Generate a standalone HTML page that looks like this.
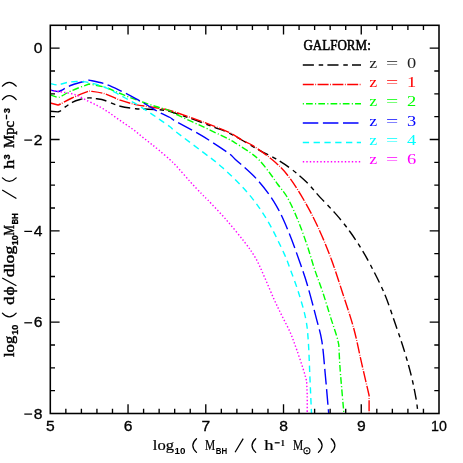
<!DOCTYPE html>
<html><head><meta charset="utf-8"><title>plot</title>
<style>html,body{margin:0;padding:0;background:#fff;}svg{display:block}.g{filter:grayscale(1)}.n{filter:saturate(1.0001)}text{font-family:"Liberation Sans",sans-serif;}.s{font-family:"Liberation Serif",serif;}</style></head><body>
<svg width="463" height="463" viewBox="0 0 463 463">
<rect width="463" height="463" fill="#fff"/>
<g fill="none" stroke-width="1.4" stroke-linejoin="round">
<path d="M50.30 111.20L58.00 111.90C58.42 111.72 59.43 111.52 60.50 110.80C61.57 110.08 62.45 109.00 64.40 107.60C66.35 106.20 69.60 103.75 72.20 102.40C74.80 101.05 77.20 100.25 80.00 99.50C82.80 98.75 86.20 98.02 89.00 97.90C91.80 97.78 94.13 98.37 96.80 98.80C99.47 99.23 101.10 99.27 105.00 100.50C108.90 101.73 115.08 104.83 120.20 106.20C125.32 107.57 130.95 108.20 135.70 108.70C140.45 109.20 143.82 108.92 148.70 109.20C153.58 109.48 160.47 109.70 165.00 110.40C169.53 111.10 172.07 112.22 175.90 113.40C179.73 114.58 183.68 115.98 188.00 117.50C192.32 119.02 197.30 120.82 201.80 122.50C206.30 124.18 210.67 125.95 215.00 127.60C219.33 129.25 223.33 130.33 227.80 132.40C232.27 134.47 236.43 136.95 241.80 140.00C247.17 143.05 254.37 147.58 260.00 150.70C265.63 153.82 270.42 155.67 275.60 158.70C280.78 161.73 286.00 165.05 291.10 168.90C296.20 172.75 301.32 177.02 306.20 181.80C311.08 186.58 315.37 192.13 320.40 197.60C325.43 203.07 331.43 208.87 336.40 214.60C341.37 220.33 346.08 226.35 350.20 232.00C354.32 237.65 357.72 243.00 361.10 248.50C364.48 254.00 366.58 257.42 370.50 265.00C374.42 272.58 380.38 283.95 384.60 294.00C388.82 304.05 392.53 315.88 395.80 325.30C399.07 334.72 401.62 342.08 404.20 350.50C406.78 358.92 409.33 367.83 411.30 375.80C413.27 383.77 414.88 392.02 416.00 398.30C417.12 404.58 417.67 410.97 418.00 413.50" stroke="#000" stroke-dasharray="11.1 4.8 4.5 4.2"/>
<path d="M50.30 103.00L58.00 105.00C58.42 104.83 58.17 105.17 60.50 104.00C62.83 102.83 67.25 100.17 72.00 98.00C76.75 95.83 86.17 92.17 89.00 91.00C91.60 91.45 99.40 92.17 104.60 93.70C109.80 95.23 115.02 98.38 120.20 100.20C125.38 102.02 130.95 103.52 135.70 104.60C140.45 105.68 143.82 105.93 148.70 106.70C153.58 107.47 160.47 108.25 165.00 109.20C169.53 110.15 169.77 110.35 175.90 112.40C182.03 114.45 193.15 118.27 201.80 121.50C210.45 124.73 221.13 128.72 227.80 131.80C234.47 134.88 237.48 137.62 241.80 140.00C246.12 142.38 248.03 142.32 253.70 146.10C259.37 149.88 269.68 157.23 275.80 162.70C281.92 168.17 285.27 171.88 290.40 178.90C295.53 185.92 301.73 196.17 306.60 204.80C311.47 213.43 315.50 221.67 319.60 230.70C323.70 239.73 327.38 248.67 331.20 259.00C335.02 269.33 338.75 281.15 342.50 292.70C346.25 304.25 350.48 316.43 353.70 328.30C356.92 340.17 359.23 352.70 361.80 363.90C364.37 375.10 367.88 390.23 369.10 395.50L369.10 413.50" stroke="#f00" stroke-dasharray="11 1.5 0.8 1.5"/>
<path d="M50.30 94.90L58.00 97.50C58.50 97.33 58.67 97.67 61.00 96.50C63.33 95.33 67.33 92.58 72.00 90.50C76.67 88.42 86.17 85.08 89.00 84.00C91.60 84.53 99.75 85.77 104.60 87.20C109.45 88.63 113.83 90.87 118.10 92.60C122.37 94.33 125.92 95.95 130.20 97.60C134.48 99.25 140.02 101.17 143.80 102.50C147.58 103.83 150.12 104.72 152.90 105.60C155.68 106.48 157.65 106.93 160.50 107.80C163.35 108.67 167.43 109.73 170.00 110.80C172.57 111.87 170.60 111.63 175.90 114.20C181.20 116.77 193.65 122.37 201.80 126.20C209.95 130.03 219.25 134.43 224.80 137.20C230.35 139.97 230.87 140.23 235.10 142.80C239.33 145.37 246.17 149.70 250.20 152.60C254.23 155.50 256.02 156.77 259.30 160.20C262.58 163.63 266.87 169.23 269.90 173.20C272.93 177.17 274.62 180.00 277.50 184.00C280.38 188.00 283.97 191.58 287.20 197.20C290.43 202.82 293.67 209.95 296.90 217.70C300.13 225.45 303.63 235.05 306.60 243.70C309.57 252.35 311.98 261.43 314.70 269.60C317.42 277.77 320.18 284.53 322.90 292.70C325.62 300.87 328.68 311.32 331.00 318.60C333.32 325.88 335.50 332.00 336.80 336.40C338.10 340.80 338.47 343.57 338.80 345.00C339.03 349.20 339.35 358.78 340.20 370.20C341.05 381.62 343.28 406.28 343.90 413.50" stroke="#0f0" stroke-dasharray="6.7 2.3 1.1 2.15"/>
<path d="M50.30 90.10L58.00 91.60C58.50 91.42 58.67 91.60 61.00 90.50C63.33 89.40 67.33 86.73 72.00 85.00C76.67 83.27 86.17 80.92 89.00 80.10C91.60 80.72 99.40 82.05 104.60 83.80C109.80 85.55 115.02 88.13 120.20 90.60C125.38 93.07 130.95 96.03 135.70 98.60C140.45 101.17 144.80 103.72 148.70 106.00C152.60 108.28 155.55 110.38 159.10 112.30C162.65 114.22 167.20 115.97 170.00 117.50C172.80 119.03 170.60 118.47 175.90 121.50C181.20 124.53 193.15 130.52 201.80 135.70C210.45 140.88 222.20 148.65 227.80 152.60C233.40 156.55 230.37 154.75 235.40 159.40C240.43 164.05 251.27 172.93 258.00 180.50C264.73 188.07 270.67 196.17 275.80 204.80C280.93 213.43 284.75 222.58 288.80 232.30C292.85 242.02 296.97 254.18 300.10 263.10C303.23 272.02 304.88 276.55 307.60 285.80C310.32 295.05 314.02 309.35 316.40 318.60C318.78 327.85 320.43 332.12 321.90 341.30C323.37 350.48 324.07 361.67 325.20 373.70C326.33 385.73 328.12 406.87 328.70 413.50" stroke="#00f" stroke-dasharray="15.5 4.6"/>
<path d="M50.30 83.60C51.42 83.82 55.38 84.77 57.00 84.90C58.62 85.03 58.17 84.83 60.00 84.40C61.83 83.97 65.17 82.78 68.00 82.30C70.83 81.82 73.50 81.47 77.00 81.50C80.50 81.53 84.42 81.57 89.00 82.50C93.58 83.43 100.15 85.45 104.50 87.10C108.85 88.75 111.82 90.67 115.10 92.40C118.38 94.13 121.17 95.83 124.20 97.50C127.23 99.17 130.03 100.52 133.30 102.40C136.57 104.28 140.53 106.73 143.80 108.80C147.07 110.87 150.12 112.92 152.90 114.80C155.68 116.68 157.65 118.10 160.50 120.10C163.35 122.10 167.43 124.85 170.00 126.80C172.57 128.75 170.60 127.72 175.90 131.80C181.20 135.88 194.05 145.35 201.80 151.30C209.55 157.25 214.65 160.47 222.40 167.50C230.15 174.53 240.75 184.58 248.30 193.50C255.85 202.42 261.75 211.02 267.70 221.00C273.65 230.98 280.20 245.23 284.00 253.40C287.80 261.57 288.07 263.45 290.50 270.00C292.93 276.55 296.07 284.60 298.60 292.70C301.13 300.80 304.08 310.50 305.70 318.60C307.32 326.70 307.60 331.58 308.30 341.30C309.00 351.02 309.37 364.87 309.90 376.90C310.43 388.93 311.23 407.40 311.50 413.50" stroke="#0ff" stroke-dasharray="6.3 4.5"/>
<path d="M50.30 90.10C51.58 90.32 56.05 91.08 58.00 91.40C59.95 91.72 59.17 91.47 62.00 92.00C64.83 92.53 70.67 93.10 75.00 94.60C79.33 96.10 84.07 99.07 88.00 101.00C91.93 102.93 95.38 104.47 98.60 106.20C101.82 107.93 104.42 109.52 107.30 111.40C110.18 113.28 113.03 115.48 115.90 117.50C118.77 119.52 121.62 121.50 124.50 123.50C127.38 125.50 130.32 127.33 133.20 129.50C136.08 131.67 138.92 134.18 141.80 136.50C144.68 138.82 147.62 141.10 150.50 143.40C153.38 145.70 155.85 147.57 159.10 150.30C162.35 153.03 167.20 157.27 170.00 159.80C172.80 162.33 172.57 161.88 175.90 165.50C179.23 169.12 185.68 176.75 190.00 181.50C194.32 186.25 198.83 190.92 201.80 194.00C204.77 197.08 203.78 195.77 207.80 200.00C211.82 204.23 219.85 212.48 225.90 219.40C231.95 226.32 239.13 235.02 244.10 241.50C249.07 247.98 252.25 252.25 255.70 258.30C259.15 264.35 261.77 271.02 264.80 277.80C267.83 284.58 271.10 292.78 273.90 299.00C276.70 305.22 278.88 309.53 281.60 315.10C284.32 320.67 287.68 326.63 290.20 332.40C292.72 338.17 294.53 343.58 296.70 349.70C298.87 355.82 301.55 363.88 303.20 369.10C304.85 374.32 306.03 379.02 306.60 381.00C306.70 383.33 307.10 389.58 307.20 395.00C307.30 400.42 307.20 410.42 307.20 413.50" stroke="#f0f" stroke-dasharray="1.4 2.1"/>
</g>
<g stroke="#000" stroke-width="1.55" fill="none">
<rect x="50.3" y="25.3" width="388.7" height="388.2"/>
<path d="M65.85 413.50V408.80M65.85 25.30V30.00M81.40 413.50V408.80M81.40 25.30V30.00M96.94 413.50V408.80M96.94 25.30V30.00M112.49 413.50V408.80M112.49 25.30V30.00M128.04 413.50V404.20M128.04 25.30V34.60M143.59 413.50V408.80M143.59 25.30V30.00M159.14 413.50V408.80M159.14 25.30V30.00M174.68 413.50V408.80M174.68 25.30V30.00M190.23 413.50V408.80M190.23 25.30V30.00M205.78 413.50V404.20M205.78 25.30V34.60M221.33 413.50V408.80M221.33 25.30V30.00M236.88 413.50V408.80M236.88 25.30V30.00M252.42 413.50V408.80M252.42 25.30V30.00M267.97 413.50V408.80M267.97 25.30V30.00M283.52 413.50V404.20M283.52 25.30V34.60M299.07 413.50V408.80M299.07 25.30V30.00M314.62 413.50V408.80M314.62 25.30V30.00M330.16 413.50V408.80M330.16 25.30V30.00M345.71 413.50V408.80M345.71 25.30V30.00M361.26 413.50V404.20M361.26 25.30V34.60M376.81 413.50V408.80M376.81 25.30V30.00M392.36 413.50V408.80M392.36 25.30V30.00M407.90 413.50V408.80M407.90 25.30V30.00M423.45 413.50V408.80M423.45 25.30V30.00M50.30 390.66H55.00M439.00 390.66H434.30M50.30 367.83H55.00M439.00 367.83H434.30M50.30 344.99H55.00M439.00 344.99H434.30M50.30 322.16H59.60M439.00 322.16H429.70M50.30 299.32H55.00M439.00 299.32H434.30M50.30 276.49H55.00M439.00 276.49H434.30M50.30 253.65H55.00M439.00 253.65H434.30M50.30 230.82H59.60M439.00 230.82H429.70M50.30 207.98H55.00M439.00 207.98H434.30M50.30 185.15H55.00M439.00 185.15H434.30M50.30 162.31H55.00M439.00 162.31H434.30M50.30 139.48H59.60M439.00 139.48H429.70M50.30 116.64H55.00M439.00 116.64H434.30M50.30 93.81H55.00M439.00 93.81H434.30M50.30 70.97H55.00M439.00 70.97H434.30M50.30 48.14H59.60M439.00 48.14H429.70" stroke-width="1.35"/>
</g>
<g class="g" font-size="14" fill="#000" stroke="#000" stroke-width="0.3">
<text x="45.9" y="431.4" textLength="8.7" lengthAdjust="spacingAndGlyphs">5</text>
<text x="123.7" y="431.4" textLength="8.7" lengthAdjust="spacingAndGlyphs">6</text>
<text x="201.4" y="431.4" textLength="8.7" lengthAdjust="spacingAndGlyphs">7</text>
<text x="279.2" y="431.4" textLength="8.7" lengthAdjust="spacingAndGlyphs">8</text>
<text x="356.9" y="431.4" textLength="8.7" lengthAdjust="spacingAndGlyphs">9</text>
<text x="431.1" y="431.4" textLength="15.8" lengthAdjust="spacingAndGlyphs">10</text>
<text x="33.7" y="53.1" textLength="8.7" lengthAdjust="spacingAndGlyphs">0</text>
<text x="33.7" y="144.5" textLength="8.7" lengthAdjust="spacingAndGlyphs">2</text>
<path d="M24.3 140.1H32.1" stroke-width="1.25" fill="none"/>
<text x="33.7" y="235.8" textLength="8.7" lengthAdjust="spacingAndGlyphs">4</text>
<path d="M24.3 231.4H32.1" stroke-width="1.25" fill="none"/>
<text x="33.7" y="327.2" textLength="8.7" lengthAdjust="spacingAndGlyphs">6</text>
<path d="M24.3 322.8H32.1" stroke-width="1.25" fill="none"/>
<text x="33.7" y="418.5" textLength="8.7" lengthAdjust="spacingAndGlyphs">8</text>
<path d="M24.3 414.1H32.1" stroke-width="1.25" fill="none"/>
</g>
<text class="s g" x="303.4" y="49.7" font-size="15" stroke="#000" stroke-width="0.55" textLength="67.4" lengthAdjust="spacingAndGlyphs">GALFORM:</text>
<g fill="none" stroke-width="1.5">
<path d="M302.8 65.0H361" stroke="#000" stroke-dasharray="11.1 4.8 4.5 4.2" stroke-dashoffset="0"/>
<path d="M302.8 84.4H361" stroke="#f00" stroke-dasharray="11 1.5 0.8 1.5" stroke-dashoffset="0"/>
<path d="M302.8 103.7H361" stroke="#0f0" stroke-dasharray="6.7 2.3 1.1 2.15" stroke-dashoffset="9.0"/>
<path d="M302.8 123.1H361" stroke="#00f" stroke-dasharray="15.5 4.6" stroke-dashoffset="0"/>
<path d="M302.8 142.4H361" stroke="#0ff" stroke-dasharray="6.3 4.5" stroke-dashoffset="0"/>
<path d="M302.8 161.8H361" stroke="#f0f" stroke-dasharray="1.4 2.1" stroke-dashoffset="0"/>
</g>
<g class="s n" font-size="15.5">
<text class="s" y="67.6" fill="#222" x="369.3" textLength="7.9" lengthAdjust="spacingAndGlyphs">z</text><text class="s" y="67.6" fill="#222" x="385.9" textLength="12.2" lengthAdjust="spacingAndGlyphs">=</text><text class="s" y="67.6" fill="#222" x="406.9" textLength="9.2" lengthAdjust="spacingAndGlyphs">0</text>
<text class="s" y="87.0" fill="#f00" x="369.3" textLength="7.9" lengthAdjust="spacingAndGlyphs">z</text><text class="s" y="87.0" fill="#f00" x="385.9" textLength="12.2" lengthAdjust="spacingAndGlyphs">=</text><text class="s" y="87.0" fill="#f00" x="406.9" textLength="9.2" lengthAdjust="spacingAndGlyphs">1</text>
<text class="s" y="106.3" fill="#0f0" x="369.3" textLength="7.9" lengthAdjust="spacingAndGlyphs">z</text><text class="s" y="106.3" fill="#0f0" x="385.9" textLength="12.2" lengthAdjust="spacingAndGlyphs">=</text><text class="s" y="106.3" fill="#0f0" x="406.9" textLength="9.2" lengthAdjust="spacingAndGlyphs">2</text>
<text class="s" y="125.7" fill="#00f" x="369.3" textLength="7.9" lengthAdjust="spacingAndGlyphs">z</text><text class="s" y="125.7" fill="#00f" x="385.9" textLength="12.2" lengthAdjust="spacingAndGlyphs">=</text><text class="s" y="125.7" fill="#00f" x="406.9" textLength="9.2" lengthAdjust="spacingAndGlyphs">3</text>
<text class="s" y="145.0" fill="#0ff" x="369.3" textLength="7.9" lengthAdjust="spacingAndGlyphs">z</text><text class="s" y="145.0" fill="#0ff" x="385.9" textLength="12.2" lengthAdjust="spacingAndGlyphs">=</text><text class="s" y="145.0" fill="#0ff" x="406.9" textLength="9.2" lengthAdjust="spacingAndGlyphs">4</text>
<text class="s" y="164.4" fill="#f0f" x="369.3" textLength="7.9" lengthAdjust="spacingAndGlyphs">z</text><text class="s" y="164.4" fill="#f0f" x="385.9" textLength="12.2" lengthAdjust="spacingAndGlyphs">=</text><text class="s" y="164.4" fill="#f0f" x="406.9" textLength="9.2" lengthAdjust="spacingAndGlyphs">6</text>
</g>
<g class="s g" fill="#000" font-size="15.5" stroke="#000" stroke-width="0.22">
<text class="s" x="152.8" y="450.0" textLength="21.2" lengthAdjust="spacingAndGlyphs">log</text>
<text class="s" x="174.6" y="453.5" font-size="9" font-weight="bold" stroke="none" style="font-family:'Liberation Sans',sans-serif" textLength="10.9" lengthAdjust="spacingAndGlyphs">10</text>
<path d="M196.5 438.7Q189.1 445.5 196.5 452.4" fill="none" stroke="#000" stroke-width="1.25" stroke-linecap="round"/>
<text class="s" x="205.0" y="450.0" textLength="10.2" lengthAdjust="spacingAndGlyphs">M</text>
<text class="s" x="215.8" y="453.5" font-size="9" font-weight="bold" stroke="none" style="font-family:'Liberation Sans',sans-serif" textLength="11.4" lengthAdjust="spacingAndGlyphs">BH</text>
<path d="M235.1 452.2L243.2 438.6" stroke="#000" stroke-width="1.25" fill="none"/>
<path d="M255.7 438.7Q248.3 445.5 255.7 452.4" fill="none" stroke="#000" stroke-width="1.25" stroke-linecap="round"/>
<text class="s" x="264.2" y="450.0" textLength="9.3" lengthAdjust="spacingAndGlyphs">h</text>
<path d="M274.7 442.8H279.7" stroke="#000" stroke-width="1.3" fill="none"/>
<text x="280.6" y="445.7" font-size="9" font-weight="bold" stroke="none" class="s">1</text>
<text class="s" x="292.9" y="450.0" textLength="10.2" lengthAdjust="spacingAndGlyphs">M</text>
<circle cx="306.9" cy="450.8" r="3.05" fill="none" stroke="#000" stroke-width="1.05"/><circle cx="306.9" cy="450.8" r="0.85" fill="#000" stroke="none"/>
<path d="M318.4 438.7Q325.8 445.5 318.4 452.4" fill="none" stroke="#000" stroke-width="1.25" stroke-linecap="round"/>
<path d="M331.2 438.7Q338.6 445.5 331.2 452.4" fill="none" stroke="#000" stroke-width="1.25" stroke-linecap="round"/>
</g>
<g class="s g" fill="#000" font-size="15.5" stroke="#000" stroke-width="0.45" transform="translate(13.7 0) rotate(-90)">
<text class="s" x="-357.0" y="0.0" textLength="21.2" lengthAdjust="spacingAndGlyphs">log</text>
<text class="s" x="-334.7" y="3.8" font-size="9" font-weight="bold" stroke-width="0.3" style="font-family:'Liberation Sans',sans-serif" textLength="10.0" lengthAdjust="spacingAndGlyphs">10</text>
<text class="s" x="-304.7" y="0.0" textLength="8.2" lengthAdjust="spacingAndGlyphs">d</text>
<text class="s" x="-295.6" y="0.0" textLength="9.2" lengthAdjust="spacingAndGlyphs">ϕ</text>
<text class="s" x="-277.2" y="0.0" textLength="31.4" lengthAdjust="spacingAndGlyphs">dlog</text>
<text class="s" x="-245.2" y="3.8" font-size="9" font-weight="bold" stroke-width="0.3" style="font-family:'Liberation Sans',sans-serif" textLength="10.0" lengthAdjust="spacingAndGlyphs">10</text>
<text class="s" x="-235.5" y="0.0" textLength="10.4" lengthAdjust="spacingAndGlyphs">M</text>
<text class="s" x="-224.6" y="3.8" font-size="9" font-weight="bold" stroke-width="0.3" style="font-family:'Liberation Sans',sans-serif" textLength="11.4" lengthAdjust="spacingAndGlyphs">BH</text>
<text class="s" x="-169.1" y="0.0" textLength="9.3" lengthAdjust="spacingAndGlyphs">h</text>
<text class="s" x="-159.6" y="-4.0" font-size="9" font-weight="bold" stroke-width="0.3" style="font-family:'Liberation Sans',sans-serif" textLength="5.2" lengthAdjust="spacingAndGlyphs">3</text>
<text class="s" x="-148.0" y="0.0" textLength="27.2" lengthAdjust="spacingAndGlyphs">Mpc</text>
<text class="s" x="-113.2" y="-4.0" font-size="9" font-weight="bold" stroke-width="0.3" style="font-family:'Liberation Sans',sans-serif" textLength="5.2" lengthAdjust="spacingAndGlyphs">3</text>
</g>
<path d="M2.4 313.1Q9.3 320.7 16.2 313.1" fill="none" stroke="#000" stroke-width="1.25" stroke-linecap="round"/>
<path d="M2.4 177.9Q9.3 184.9 16.2 177.9" fill="none" stroke="#000" stroke-width="1.25" stroke-linecap="round"/>
<path d="M2.4 99.6Q9.3 91.6 16.2 99.6" fill="none" stroke="#000" stroke-width="1.25" stroke-linecap="round"/>
<path d="M2.4 86.2Q9.3 78.6 16.2 86.2" fill="none" stroke="#000" stroke-width="1.25" stroke-linecap="round"/>
<path d="M2.2 278L16.4 285.8M2.2 190L16.4 198.5" stroke="#000" stroke-width="1.25" fill="none"/>
<path d="M6.5 114.6V119.4" stroke="#000" stroke-width="1.3" fill="none"/>
</svg></body></html>
